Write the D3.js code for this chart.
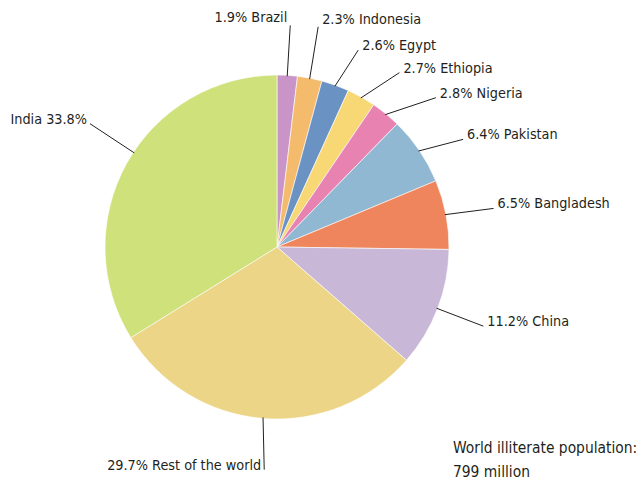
<!DOCTYPE html>
<html>
<head>
<meta charset="utf-8">
<script src="https://cdn.jsdelivr.net/npm/d3@7"></script>
<style>
  body { margin: 0; background: #fff; }
  svg text { font-family: "Liberation Sans Narrow", "DejaVu Sans Condensed", sans-serif; fill: #231f20; }
</style>
</head>
<body>
<svg id="chart"></svg>
<script>
// share of world illiterate population, %, clockwise from 12 o'clock
const countries = ["Brazil", "Indonesia", "Egypt", "Ethiopia", "Nigeria", "Pakistan", "Bangladesh", "China", "Rest of the world", "India"];
const shares = [1.9, 2.3, 2.6, 2.7, 2.8, 6.4, 6.5, 11.2, 29.7, 33.8];
const colors = ["#c994c7", "#f4bb6c", "#6a93c3", "#f8d775", "#e882b0", "#90b8d2", "#ee855c", "#c8b7d6", "#ecd587", "#cfe17b"];
const totalLabel = ["World illiterate population:", "799 million"];

const width = 644, height = 483;
const cx = 277, cy = 247, r = 172;

// label layout: angle nudge (deg) and radius of the leader end
const labelShift = [0, -0.4, 2.6, 5.7, 7.5, 4.1, 0.8, 0, -1.4, 4.3];
const labelRadius = [222, 224, 213, 213, 218, 215, 220, 221, 223, 224];

const svg = d3.select("#chart").attr("width", width).attr("height", height);
const g = svg.append("g").attr("transform", `translate(${cx},${cy})`);

const data = countries.map((c, i) => ({ name: c, value: shares[i], i }));
const pie = d3.pie().sort(null).value(d => d.value);
const arcs = pie(data);
const arc = d3.arc().innerRadius(0).outerRadius(r);

g.selectAll("path")
  .data(arcs)
  .enter()
  .append("path")
  .attr("d", arc)
  .attr("fill", d => colors[d.data.i])
  .attr("stroke", "#fff")
  .attr("stroke-width", 0.6);

const pt = (a, rad) => [Math.sin(a) * rad, -Math.cos(a) * rad];

arcs.forEach(d => {
  const i = d.data.i;
  const mid = (d.startAngle + d.endAngle) / 2;
  const endA = mid + labelShift[i] * Math.PI / 180;
  const startA = i === 9 ? endA : mid;
  const p0 = pt(startA, r - 1);
  const p1 = pt(endA, labelRadius[i]);
  g.append("line")
    .attr("x1", p0[0]).attr("y1", p0[1])
    .attr("x2", p1[0]).attr("y2", p1[1])
    .attr("stroke", "#231f20")
    .attr("stroke-width", 1);

  const left = p1[0] < -5 || i === 0;
  const txt = i === 9 ? `${d.data.name} ${d.data.value}%` : `${d.data.value}% ${d.data.name}`;
  g.append("text")
    .attr("x", p1[0] + (left ? -3 : 4))
    .attr("y", p1[1] + (i < 2 ? -3 : 0))
    .attr("text-anchor", left ? "end" : "start")
    .attr("font-size", 14.3)
    .text(txt);
});

svg.selectAll(".total")
  .data(totalLabel)
  .enter()
  .append("text")
  .attr("class", "total")
  .attr("x", 453)
  .attr("y", (d, i) => 453 + i * 24)
  .attr("font-size", 15.4)
  .text(d => d);
</script>
</body>
</html>
